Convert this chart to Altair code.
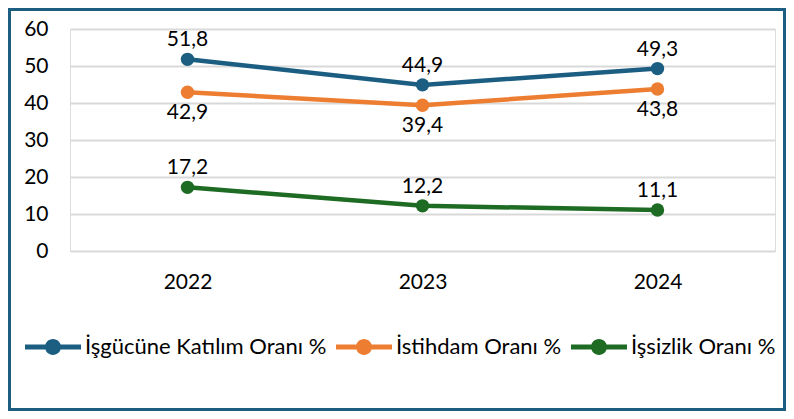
import altair as alt
import pandas as pd

years = ["2022", "2023", "2024"]
series_names = ["İşgücüne Katılım Oranı %", "İstihdam Oranı %", "İşsizlik Oranı %"]
participation = [51.8, 44.9, 49.3]
employment = [42.9, 39.4, 43.8]
unemployment = [17.2, 12.2, 11.1]
colors = ["#1B5E82", "#ED7D31", "#1E6B24"]
y_ticks = [0, 10, 20, 30, 40, 50, 60]

rows = []
for name, vals in zip(series_names, [participation, employment, unemployment]):
    for yr, v in zip(years, vals):
        rows.append({"Yıl": yr, "Seri": name, "Değer": v})
df = pd.DataFrame(rows)

FONT = "Lato"
W, H = 705, 222
PAD = {"left": 62, "top": 21, "right": 11, "bottom": 160}

base = alt.Chart(df).transform_calculate(
    etiket="replace(format(datum['Değer'], '.1f'), '.', ',')"
)

x = alt.X("Yıl:O", scale=alt.Scale(domain=years), title=None,
          axis=alt.Axis(labelAngle=0, ticks=False, domain=False, grid=False, labelPadding=20,
                        labelFontSize=21, labelColor="#000000", labelFont=FONT))
y = alt.Y("Değer:Q", scale=alt.Scale(domain=[0, 60], nice=False), title=None,
          axis=alt.Axis(values=y_ticks, ticks=False, domain=False, labelPadding=22,
                        labelFontSize=21, labelColor="#000000", labelFont=FONT,
                        labelOverlap=False,
                        gridColor="#D9D9D9", gridWidth=2))
color = alt.Color("Seri:N", scale=alt.Scale(domain=series_names, range=colors), title=None,
                  legend=alt.Legend(orient="none", direction="horizontal", legendX=-45, legendY=304,
                                    symbolType="M-2,-0.18 H2 V0.18 H-2 Z M0.57,0 A0.57,0.57 0 1,1 -0.57,0 A0.57,0.57 0 1,1 0.57,0 Z",
                                    symbolSize=784, symbolStrokeWidth=0, symbolOpacity=1,
                                    labelFontSize=22, labelFont=FONT, labelColor="#000000",
                                    labelLimit=400, labelOffset=18, symbolOffset=14,
                                    columnPadding=9))

lines = base.mark_line(strokeWidth=4.5, point=alt.OverlayMarkDef(size=180, filled=True, opacity=1)).encode(
    x=x, y=y, color=color)

above = base.transform_filter(
    alt.FieldOneOfPredicate(field="Seri", oneOf=[series_names[0], series_names[2]])
).mark_text(dy=-19, fontSize=21, font=FONT, color="#000000").encode(
    x=x, y=y, text="etiket:N")

below = base.transform_filter(
    alt.FieldEqualPredicate(field="Seri", equal=series_names[1])
).mark_text(dy=21, fontSize=21, font=FONT, color="#000000").encode(
    x=x, y=y, text="etiket:N")

frame = alt.Chart(pd.DataFrame({"k": [0]})).mark_rect(
    fill=None, stroke="#1B5E82", strokeWidth=3).encode(
    x=alt.value(-PAD["left"] + 1.5), x2=alt.value(W + PAD["right"] - 1.5),
    y=alt.value(-PAD["top"] + 1.5), y2=alt.value(H + PAD["bottom"] - 1.5))

chart = alt.layer(lines, above, below, frame).properties(
    width=W, height=H,
    autosize=alt.AutoSizeParams(type="none"),
    padding=PAD,
).configure_view(stroke=None, strokeWidth=0).configure(background="#FFFFFF")

chart.save("out.html", embed_options={"renderer": "svg", "actions": False})
